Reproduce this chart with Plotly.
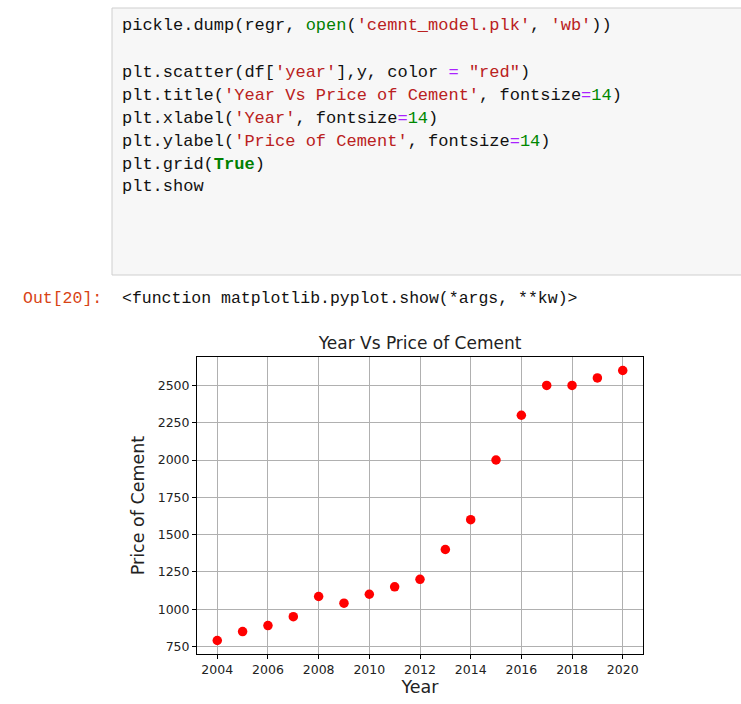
import plotly.graph_objects as go

# Cement price per year
years = [2004, 2005, 2006, 2007, 2008, 2009, 2010, 2011, 2012,
         2013, 2014, 2015, 2016, 2017, 2018, 2019, 2020]
prices = [790, 850, 890, 950, 1085, 1040, 1100, 1150, 1200,
          1400, 1600, 2000, 2300, 2500, 2500, 2550, 2600]

x_ticks = [2004, 2006, 2008, 2010, 2012, 2014, 2016, 2018, 2020]
y_ticks = [750, 1000, 1250, 1500, 1750, 2000, 2250, 2500]

# Notebook cell source, tokenised for syntax colouring
KW = "#008000"
STR = "#BA2121"
NUM = "#008800"
OP = "#AA22FF"
TXT = "#111111"
code_lines = [
    [("pickle.dump(regr, ", TXT), ("open", KW), ("(", TXT), ("'cemnt_model.plk'", STR),
     (", ", TXT), ("'wb'", STR), ("))", TXT)],
    [],
    [("plt.scatter(df[", TXT), ("'year'", STR), ("],y, color ", TXT), ("=", OP),
     (" ", TXT), ("\"red\"", STR), (")", TXT)],
    [("plt.title(", TXT), ("'Year Vs Price of Cement'", STR), (", fontsize", TXT),
     ("=", OP), ("14", NUM), (")", TXT)],
    [("plt.xlabel(", TXT), ("'Year'", STR), (", fontsize", TXT), ("=", OP),
     ("14", NUM), (")", TXT)],
    [("plt.ylabel(", TXT), ("'Price of Cement'", STR), (", fontsize", TXT), ("=", OP),
     ("14", NUM), (")", TXT)],
    [("plt.grid(", TXT), ("<b>True</b>", KW), (")", TXT)],
    [("plt.show", TXT)],
]
out_prompt = "Out[20]:"
out_text = "&lt;function matplotlib.pyplot.show(*args, **kw)&gt;"

W, H = 741, 704
L, R, T, B = 197, 643, 357, 654


def px2x(px):
    return (px - L) / (R - L)


def py2y(py):
    return (B - py) / (B - T)


MONO = "Liberation Mono, DejaVu Sans Mono, monospace"
SANS = "DejaVu Sans, sans-serif"

fig = go.Figure()
fig.add_trace(go.Scatter(
    x=years, y=prices, mode="markers",
    marker=dict(color="#ff0000", size=9.5, line=dict(width=0)),
    showlegend=False,
))

shapes = [dict(
    type="rect", xref="paper", yref="paper", layer="below",
    x0=px2x(112), x1=px2x(760), y0=py2y(8), y1=py2y(275),
    fillcolor="#f7f7f7", line=dict(color="#cfcfcf", width=1),
)]

annotations = []
line_y0, line_step = 26, 23
for i, toks in enumerate(code_lines):
    if not toks:
        continue
    html = "".join(f'<span style="color:{c}">{t}</span>' for t, c in toks)
    annotations.append(dict(
        text=html, xref="paper", yref="paper",
        x=px2x(120), y=py2y(line_y0 + i * line_step),
        xanchor="left", yanchor="middle", showarrow=False,
        font=dict(family=MONO, size=17, color=TXT),
    ))

annotations.append(dict(
    text=out_prompt, xref="paper", yref="paper",
    x=px2x(21), y=py2y(298), xanchor="left", yanchor="middle",
    showarrow=False, font=dict(family=MONO, size=16.5, color="#D84315"),
))
annotations.append(dict(
    text=out_text, xref="paper", yref="paper",
    x=px2x(120), y=py2y(298), xanchor="left", yanchor="middle",
    showarrow=False, font=dict(family=MONO, size=16.5, color=TXT),
))

axis_common = dict(
    showgrid=True, gridcolor="#b0b0b0", gridwidth=1,
    showline=True, linecolor="#000000", linewidth=1, mirror=True,
    ticks="outside", ticklen=4, tickwidth=1, tickcolor="#000000",
    zeroline=False,
    tickfont=dict(family=SANS, size=12.5, color="#222222"),
)

fig.update_layout(
    width=W, height=H,
    margin=dict(l=L, r=W - R, t=T, b=H - B),
    paper_bgcolor="white", plot_bgcolor="white",
    title=dict(
        text="Year Vs Price of Cement", xref="paper", x=0.5, xanchor="center",
        yref="container", y=1 - 343 / H, yanchor="middle",
        font=dict(family=SANS, size=17, color="#222222"),
    ),
    xaxis=dict(
        range=[2003.2, 2020.8], tickvals=x_ticks,
        title=dict(text="Year", standoff=4,
                   font=dict(family=SANS, size=17.5, color="#222222")),
        **axis_common,
    ),
    yaxis=dict(
        range=[699.5, 2690.5], tickvals=y_ticks,
        title=dict(text="Price of Cement", standoff=8,
                   font=dict(family=SANS, size=17.5, color="#222222")),
        **axis_common,
    ),
    shapes=shapes,
    annotations=annotations,
)

fig.write_html("out.html")
